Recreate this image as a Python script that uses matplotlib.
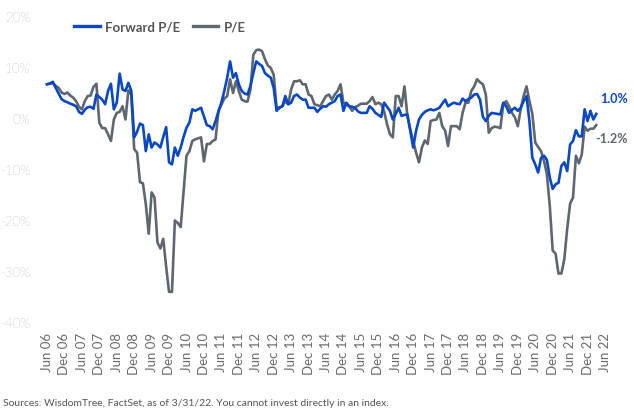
import numpy as np
import matplotlib
matplotlib.use("Agg")
import matplotlib.pyplot as plt

# Monthly, Jun 2006 .. Mar 2022, % premium/discount
forward_pe = [
    6.8, 7.0, 7.3, 6.1, 5.0, 3.9, 3.5, 3.3, 3.0, 2.8,
    2.5, 1.4, 1.0, 1.8, 2.3, 2.4, 2.0, 4.8, 4.3, 3.8,
    2.9, 5.5, 6.9, 1.9, 3.2, 8.9, 5.8, 5.5, 7.1, 5.5,
    -3.6, -2.5, -0.9, -1.2, -6.3, -3.0, -5.6, -4.6, -5.0, -5.6,
    -3.5, -1.6, -8.5, -8.9, -5.6, -7.2, -5.6, -3.5, -1.7, -0.7,
    1.9, 1.6, 1.9, 2.2, 0.5, -1.2, -1.4, -2.0, -0.4, 1.5,
    3.2, 5.5, 8.1, 11.3, 8.1, 9.0, 6.8, 5.5, 5.0, 4.8,
    6.5, 9.0, 11.3, 10.8, 10.4, 9.0, 8.5, 8.1, 6.1, 1.6,
    2.2, 2.5, 4.5, 2.9, 3.2, 4.5, 4.8, 4.2, 3.8, 3.8,
    2.2, 2.2, 2.2, 1.4, 2.0, 2.5, 2.4, 2.9, 3.2, 3.5,
    4.5, 4.8, 1.6, 3.2, 2.5, 2.4, 2.2, 1.5, 1.2, 1.2,
    1.2, 2.5, 2.0, 1.2, 0.8, 0.4, 3.2, 2.4, 1.6, -0.1,
    1.0, 2.2, 0.6, 0.8, 0.9, -2.3, -5.6, -2.3, -0.1, 0.8,
    1.4, 1.7, 1.9, 1.7, 1.9, 2.2, 3.0, 3.8, 2.5, 2.9,
    3.2, 3.0, 2.9, 4.0, 3.5, 3.9, 4.2, 4.8, 4.9, 3.8,
    0.4, -0.4, 0.6, 1.2, 1.1, 1.0, 0.9, 3.2, 2.5, 1.2,
    1.8, 2.2, 1.6, 2.2, 3.5, 4.5, -0.4, -7.6, -8.9, -10.5,
    -7.6, -7.2, -8.0, -11.5, -13.7, -12.8, -12.5, -9.2, -8.5, -10.2,
    -5.0, -4.3, -2.2, -3.4, -3.4, 1.9, -0.4, 1.6, -0.1, 1.0,
]
trailing_pe = [
    6.8, 6.9, 7.0, 6.5, 6.1, 5.2, 4.9, 5.2, 4.6, 4.2,
    3.5, 2.4, 1.9, 3.5, 4.5, 4.6, 6.3, 6.9, -0.7, -1.8,
    -1.8, -3.0, -4.3, -0.1, 1.2, 1.4, 2.5, -0.1, 5.6, 4.8,
    -5.9, -6.6, -12.4, -12.6, -16.7, -22.5, -14.4, -15.4, -24.2, -25.4,
    -23.5, -29.0, -33.9, -33.9, -19.9, -20.4, -21.2, -14.1, -7.2, -6.3,
    -4.3, -4.0, -3.8, -3.6, -8.3, -4.9, -4.9, -4.3, -4.0, 1.6,
    2.8, 4.0, 4.5, 7.8, 5.1, 7.4, 5.5, 3.8, 3.5, 3.4,
    5.8, 12.6, 13.5, 13.6, 13.3, 11.7, 10.5, 10.0, 8.7, 2.2,
    2.3, 2.5, 3.5, 2.9, 5.8, 7.4, 7.4, 7.6, 6.8, 6.8,
    4.8, 4.5, 2.9, 2.7, 2.5, 3.5, 4.5, 4.8, 3.8, 4.8,
    5.5, 6.8, 3.2, 2.8, 2.5, 1.6, 2.3, 2.6, 3.0, 3.0,
    3.0, 3.5, 4.3, 2.9, 3.2, 2.9, 1.5, -1.0, -3.0, -3.6,
    4.5, 4.5, 2.5, 6.4, 0.6, -2.0, -4.3, -6.6, -8.5, -5.6,
    -4.2, -4.9, -0.4, -0.2, -0.1, 1.2, -1.4, -2.3, -5.3, -1.4,
    -1.4, -1.4, -2.0, 1.2, 3.2, 3.2, 5.5, 6.4, 7.8, 7.2,
    6.8, 4.8, -2.7, -1.8, -1.5, -1.6, -1.8, 2.9, 3.5, 2.5,
    1.2, 0.3, -1.4, 1.9, 4.5, 6.4, 3.5, 1.0, -4.6, -5.5,
    -6.3, -8.2, -10.8, -17.0, -25.8, -26.4, -30.3, -30.3, -27.5, -21.5,
    -16.6, -15.4, -7.2, -8.7, -7.0, -1.5, -2.3, -1.9, -1.9, -1.2,
]

tick_labels = []
for yr in range(6, 23):
    tick_labels.append(f"Jun {yr:02d}")
    if yr < 22:
        tick_labels.append(f"Dec {yr:02d}")
y_ticks = [-40, -30, -20, -10, 0, 10, 20]

BLUE = "#0a47c2"
GREY = "#5f676e"
TXT = "#6b6b6b"

plt.rcParams["font.family"] = ["Lato", "DejaVu Sans"]

fig = plt.figure(figsize=(6.34, 4.17), dpi=100)
ax = fig.add_axes([44.1 / 634, 1 - 323 / 417, 566.7 / 634, 306 / 417])

months = np.arange(len(forward_pe))
ax.plot(months, forward_pe, color=BLUE, lw=1.9, label="Forward P/E", zorder=3)
ax.plot(months, trailing_pe, color=GREY, lw=1.9, label="P/E", zorder=2)

ax.set_xlim(-1, 194)
ax.set_ylim(-40, 20)
ax.set_xticks(np.arange(0, 6 * len(tick_labels), 6))
ax.set_xticklabels(tick_labels, rotation=90, fontsize=9.5, color=TXT)
ax.set_yticks(y_ticks)
ax.set_yticklabels([f"{v}%" for v in y_ticks], fontsize=9.5, color=TXT,
                   fontweight="light")
ax.tick_params(axis="both", length=0)
ax.tick_params(axis="x", pad=7)
ax.tick_params(axis="y", pad=10)
for s in ax.spines.values():
    s.set_visible(False)

# end-of-series labels
ax.annotate(f"{forward_pe[-1]:.1f}%", (months[-1], forward_pe[-1]), xytext=(3, 11),
            textcoords="offset points", color=BLUE, fontsize=9, fontweight="bold",
            va="center", ha="left", annotation_clip=False)
ax.annotate(f"{trailing_pe[-1]:.1f}%", (months[-1], trailing_pe[-1]), xytext=(-1, -10),
            textcoords="offset points", color=GREY, fontsize=9, fontweight="bold",
            va="center", ha="left", annotation_clip=False)

leg = fig.legend(loc="center", bbox_to_anchor=(160 / 634, 1 - 27 / 417), ncol=2,
                 frameon=False, handlelength=1.9, handletextpad=0.4,
                 columnspacing=1.0, prop={"size": 9.5, "weight": "bold"})
for t in leg.get_texts():
    t.set_color("#555555")
for h in leg.get_lines():
    h.set_linewidth(2.4)

fig.text(3 / 634, 1 - 403 / 417,
         "Sources: WisdomTree, FactSet, as of 3/31/22. You cannot invest directly in an index.",
         fontsize=7.5, color="#555555", va="center", ha="left")

fig.savefig("out.png", dpi=100)
